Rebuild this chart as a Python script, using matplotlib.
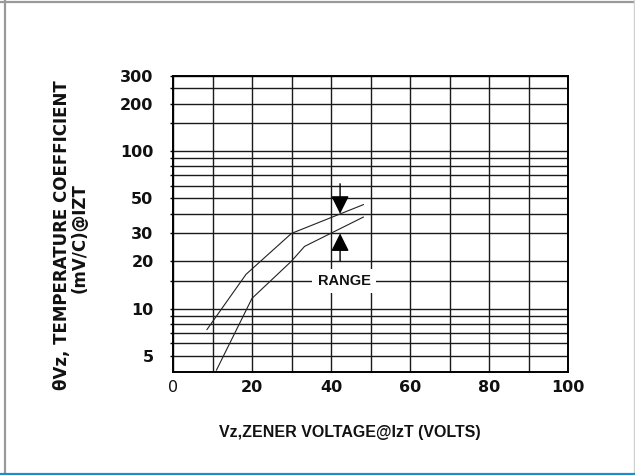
import matplotlib.pyplot as plt
from matplotlib.lines import Line2D
from matplotlib.ticker import NullFormatter

# curves (Vz in volts, temp coeff in mV/C)
vz_upper = [8.6, 18.5, 30, 48.2]
tc_upper = [7.35, 16.5, 30, 45.7]
vz_lower = [11.0, 20.0, 30, 33.3, 48.2]
tc_lower = [4.06, 11.6, 20, 24.8, 38.1]

x_ticks = [0, 20, 40, 60, 80, 100]
x_minor = [10, 30, 50, 70, 90]
y_ticks = [5, 10, 20, 30, 50, 100, 200, 300]
y_minor = [6, 7, 8, 9, 15, 40, 60, 70, 80, 90, 150, 250]

range_x = 42.3
range_top = [62, 40]     # down arrow: from, to
range_bot = [20, 30]     # up arrow: from, to
range_label_y = 15

W, H = 635, 475
fig = plt.figure(figsize=(W / 100, H / 100), dpi=100)
ax = fig.add_axes([173 / W, 1 - 372 / H, (568 - 173) / W, (372 - 76) / H])

ax.set_yscale('log')
ax.set_xlim(0, 100)
ax.set_ylim(3.95, 300)

ax.set_xticks(x_ticks)
ax.set_xticks(x_minor, minor=True)
ax.set_yticks(y_ticks)
ax.set_yticks(y_minor, minor=True)
ax.set_yticklabels([str(v) for v in y_ticks])
ax.yaxis.set_minor_formatter(NullFormatter())
ax.set_xticklabels([str(v) for v in x_ticks])

ax.grid(True, which='both', color='#1a1a1a', lw=1.0)
ax.set_axisbelow(True)
for s in ax.spines.values():
    s.set_linewidth(1.4)
    s.set_color('black')

ax.tick_params(axis='x', which='both', length=0, pad=6)
ax.tick_params(axis='y', which='both', length=2, width=1, direction='out', pad=12)
for lab in ax.get_xticklabels() + ax.get_yticklabels():
    lab.set_fontfamily('DejaVu Sans')
    lab.set_fontweight('bold')
    lab.set_fontsize(11.5)
    lab.set_color('#111111')
ax.get_xticklabels()[0].set_fontweight('normal')

ax.plot(vz_upper, tc_upper, color='#222222', lw=0.8)
ax.plot(vz_lower, tc_lower, color='#222222', lw=0.8)

arrow = dict(arrowstyle='-|>,head_length=1.1,head_width=0.55', color='black',
             lw=1.0, shrinkA=0, shrinkB=0, mutation_scale=10)
ax.annotate('', xy=(range_x, range_top[1]), xytext=(range_x, range_top[0]),
            arrowprops=arrow)
ax.annotate('', xy=(range_x, range_bot[1]), xytext=(range_x, range_bot[0]),
            arrowprops=arrow)
ax.text(43.3, range_label_y, 'RANGE', ha='center', va='center',
        family=['Liberation Sans', 'DejaVu Sans'], weight='bold', size=10.5,
        color='#111111', zorder=5,
        bbox=dict(boxstyle='square,pad=0.35', fc='white', ec='none'))

# axis titles
fig.text(62 / W, 1 - 235 / H, 'θVz, TEMPERATURE COEFFICIENT', rotation=90,
         ha='center', va='center', family='DejaVu Sans', weight='bold',
         size=12, color='#111111')
fig.text(80 / W, 1 - 238 / H, '(mV/C)@IZT', rotation=90,
         ha='center', va='center', family='DejaVu Sans', weight='bold',
         size=12, color='#111111')
fig.text(350 / W, 1 - 432 / H, 'Vz,ZENER VOLTAGE@IzT (VOLTS)',
         ha='center', va='center',
         family=['Liberation Sans Narrow', 'Liberation Sans'], weight='bold',
         size=11.5, color='#111111')

# page frame
fig.add_artist(Line2D([4.5 / W, 4.5 / W], [0, 1], transform=fig.transFigure,
                      color='#9a9a9a', lw=1.6))
fig.add_artist(Line2D([0, 1], [1 - 1.5 / H, 1 - 1.5 / H], transform=fig.transFigure,
                      color='#9a9a9a', lw=1.6))
fig.add_artist(Line2D([634 / W, 634 / W], [0, 1], transform=fig.transFigure,
                      color='#d0d0d0', lw=1.0))
fig.add_artist(Line2D([0, 1], [1 - 473.5 / H, 1 - 473.5 / H], transform=fig.transFigure,
                      color='#1b8fc9', lw=1.6))

fig.savefig('out.png', dpi=100)
